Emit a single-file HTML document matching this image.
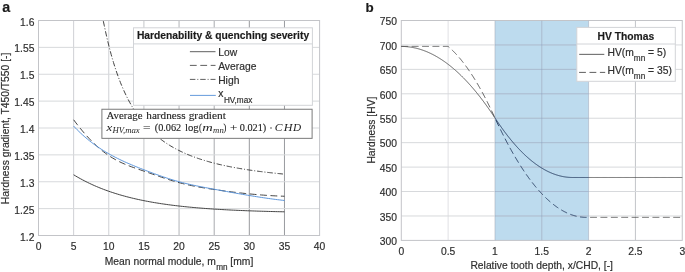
<!DOCTYPE html>
<html><head><meta charset="utf-8"><title>fig</title>
<style>
html,body{margin:0;padding:0;background:#fff;}
svg{display:block;will-change:transform;}
text{font-family:"Liberation Sans",sans-serif;font-size:10.3px;fill:#2e2e2e;stroke:#2e2e2e;stroke-width:0.18px;}
.b{font-weight:bold;fill:#1a1a1a;}
.s{font-family:"Liberation Serif",serif;fill:#222;stroke:#222;stroke-width:0.12px;}
.i{font-style:italic;stroke:none;}
</style></head><body>
<svg width="685" height="272" viewBox="0 0 685 272">
<rect width="685" height="272" fill="#fff"/>
<g fill="none" stroke-width="1">
<line x1="73.64" y1="20.5" x2="73.64" y2="235.5" stroke="#cfd1d5"/>
<line x1="108.78" y1="20.5" x2="108.78" y2="235.5" stroke="#cfd1d5"/>
<line x1="143.91" y1="20.5" x2="143.91" y2="235.5" stroke="#c4c6ca"/>
<line x1="179.05" y1="20.5" x2="179.05" y2="235.5" stroke="#b2b4b8"/>
<line x1="214.19" y1="20.5" x2="214.19" y2="235.5" stroke="#a8aaae"/>
<line x1="249.32" y1="20.5" x2="249.32" y2="235.5" stroke="#989a9e"/>
<line x1="284.46" y1="20.5" x2="284.46" y2="235.5" stroke="#989a9e"/>
<line x1="38.5" y1="208.62" x2="319.6" y2="208.62" stroke="#d7d9dc"/>
<line x1="38.5" y1="181.75" x2="319.6" y2="181.75" stroke="#d7d9dc"/>
<line x1="38.5" y1="154.87" x2="319.6" y2="154.87" stroke="#d7d9dc"/>
<line x1="38.5" y1="128.00" x2="319.6" y2="128.00" stroke="#d7d9dc"/>
<line x1="38.5" y1="101.12" x2="319.6" y2="101.12" stroke="#d7d9dc"/>
<line x1="38.5" y1="74.25" x2="319.6" y2="74.25" stroke="#d7d9dc"/>
<line x1="38.5" y1="47.37" x2="319.6" y2="47.37" stroke="#d7d9dc"/>
<rect x="38.5" y="20.5" width="281.10" height="215.00" stroke="#c3c4c8"/>
</g>
<g fill="none" stroke-width="0.95" stroke="#3a3a3a">
<path d="M73.64,174.76 L75.39,175.82 L77.15,176.86 L78.91,177.86 L80.67,178.84 L82.42,179.79 L84.18,180.71 L85.94,181.61 L87.69,182.48 L89.45,183.33 L91.21,184.16 L92.96,184.96 L94.72,185.74 L96.48,186.50 L98.23,187.24 L99.99,187.96 L101.75,188.65 L103.50,189.33 L105.26,189.99 L107.02,190.63 L108.78,191.26 L110.53,191.86 L112.29,192.45 L114.05,193.02 L115.80,193.58 L117.56,194.12 L119.32,194.65 L121.07,195.16 L122.83,195.66 L124.59,196.14 L126.34,196.62 L128.10,197.07 L129.86,197.52 L131.61,197.95 L133.37,198.37 L135.13,198.78 L136.89,199.18 L138.64,199.56 L140.40,199.94 L142.16,200.31 L143.91,200.66 L145.67,201.01 L147.43,201.34 L149.18,201.67 L150.94,201.99 L152.70,202.30 L154.45,202.60 L156.21,202.89 L157.97,203.17 L159.72,203.45 L161.48,203.72 L163.24,203.98 L165.00,204.23 L166.75,204.48 L168.51,204.72 L170.27,204.95 L172.02,205.18 L173.78,205.40 L175.54,205.61 L177.29,205.82 L179.05,206.02 L180.81,206.22 L182.56,206.41 L184.32,206.60 L186.08,206.78 L187.83,206.96 L189.59,207.13 L191.35,207.29 L193.11,207.46 L194.86,207.61 L196.62,207.77 L198.38,207.92 L200.13,208.06 L201.89,208.20 L203.65,208.34 L205.40,208.47 L207.16,208.60 L208.92,208.73 L210.67,208.85 L212.43,208.97 L214.19,209.08 L215.94,209.19 L217.70,209.30 L219.46,209.41 L221.22,209.51 L222.97,209.61 L224.73,209.71 L226.49,209.81 L228.24,209.90 L230.00,209.99 L231.76,210.08 L233.51,210.16 L235.27,210.24 L237.03,210.32 L238.78,210.40 L240.54,210.48 L242.30,210.55 L244.05,210.62 L245.81,210.69 L247.57,210.76 L249.32,210.83 L251.08,210.89 L252.84,210.95 L254.60,211.01 L256.35,211.07 L258.11,211.13 L259.87,211.18 L261.62,211.24 L263.38,211.29 L265.14,211.34 L266.89,211.39 L268.65,211.44 L270.41,211.49 L272.16,211.53 L273.92,211.58 L275.68,211.62 L277.44,211.66 L279.19,211.70 L280.95,211.74 L282.71,211.78 L284.46,211.82"/>
<path d="M73.64,119.77 L75.39,122.11 L77.15,124.40 L78.91,126.64 L80.67,128.81 L82.42,130.93 L84.18,132.99 L85.94,134.99 L87.69,136.94 L89.45,138.82 L91.21,140.65 L92.96,142.42 L94.72,144.12 L96.48,145.77 L98.23,147.35 L99.99,148.88 L101.75,150.34 L103.50,151.74 L105.26,153.08 L107.02,154.36 L108.78,155.57 L110.53,156.72 L112.29,157.81 L114.05,158.85 L115.80,159.83 L117.56,160.76 L119.32,161.65 L121.07,162.49 L122.83,163.29 L124.59,164.06 L126.34,164.80 L128.10,165.50 L129.86,166.18 L131.61,166.84 L133.37,167.48 L135.13,168.10 L136.89,168.72 L138.64,169.32 L140.40,169.92 L142.16,170.52 L143.91,171.12 L145.67,171.72 L147.43,172.33 L149.18,172.94 L150.94,173.55 L152.70,174.16 L154.45,174.77 L156.21,175.39 L157.97,175.99 L159.72,176.60 L161.48,177.20 L163.24,177.79 L165.00,178.37 L166.75,178.95 L168.51,179.51 L170.27,180.07 L172.02,180.61 L173.78,181.14 L175.54,181.66 L177.29,182.16 L179.05,182.64 L180.81,183.11 L182.56,183.55 L184.32,183.99 L186.08,184.40 L187.83,184.80 L189.59,185.19 L191.35,185.56 L193.11,185.92 L194.86,186.27 L196.62,186.61 L198.38,186.93 L200.13,187.25 L201.89,187.55 L203.65,187.85 L205.40,188.14 L207.16,188.43 L208.92,188.70 L210.67,188.97 L212.43,189.24 L214.19,189.50 L215.94,189.76 L217.70,190.01 L219.46,190.26 L221.22,190.51 L222.97,190.76 L224.73,191.00 L226.49,191.23 L228.24,191.46 L230.00,191.69 L231.76,191.91 L233.51,192.13 L235.27,192.35 L237.03,192.56 L238.78,192.76 L240.54,192.96 L242.30,193.16 L244.05,193.35 L245.81,193.54 L247.57,193.72 L249.32,193.90 L251.08,194.07 L252.84,194.23 L254.60,194.40 L256.35,194.55 L258.11,194.70 L259.87,194.85 L261.62,194.99 L263.38,195.12 L265.14,195.25 L266.89,195.37 L268.65,195.49 L270.41,195.60 L272.16,195.70 L273.92,195.80 L275.68,195.89 L277.44,195.98 L279.19,196.06 L280.95,196.13 L282.71,196.19 L284.46,196.25" stroke-dasharray="6.8 3.6"/>
<path d="M102.03,20.50 L103.18,20.50 L104.32,25.82 L105.47,31.25 L106.62,36.41 L107.77,41.31 L108.91,45.97 L110.06,50.41 L111.21,54.65 L112.36,58.68 L113.50,62.54 L114.65,66.22 L115.80,69.73 L116.94,73.10 L118.09,76.32 L119.24,79.40 L120.39,82.36 L121.53,85.19 L122.68,87.91 L123.83,90.52 L124.98,93.02 L126.12,95.43 L127.27,97.75 L128.42,99.97 L129.57,102.12 L130.71,104.18 L131.86,106.17 L133.01,108.09 L134.16,109.94 L135.30,111.72 L136.45,113.44 L137.60,115.10 L138.74,116.70 L139.89,118.25 L141.04,119.75 L142.19,121.20 L143.33,122.60 L144.48,123.96 L145.63,125.27 L146.78,126.54 L147.92,127.78 L149.07,128.97 L150.22,130.13 L151.37,131.25 L152.51,132.34 L153.66,133.39 L154.81,134.42 L155.96,135.41 L157.10,136.38 L158.25,137.32 L159.40,138.23 L160.55,139.12 L161.69,139.98 L162.84,140.81 L163.99,141.63 L165.13,142.42 L166.28,143.19 L167.43,143.95 L168.58,144.68 L169.72,145.39 L170.87,146.08 L172.02,146.76 L173.17,147.42 L174.31,148.06 L175.46,148.69 L176.61,149.30 L177.76,149.89 L178.90,150.47 L180.05,151.04 L181.20,151.59 L182.35,152.13 L183.49,152.66 L184.64,153.18 L185.79,153.68 L186.93,154.17 L188.08,154.65 L189.23,155.12 L190.38,155.58 L191.52,156.03 L192.67,156.47 L193.82,156.89 L194.97,157.31 L196.11,157.72 L197.26,158.12 L198.41,158.52 L199.56,158.90 L200.70,159.28 L201.85,159.65 L203.00,160.01 L204.15,160.36 L205.29,160.71 L206.44,161.05 L207.59,161.38 L208.74,161.70 L209.88,162.02 L211.03,162.33 L212.18,162.64 L213.32,162.94 L214.47,163.23 L215.62,163.52 L216.77,163.81 L217.91,164.08 L219.06,164.36 L220.21,164.62 L221.36,164.89 L222.50,165.14 L223.65,165.40 L224.80,165.64 L225.95,165.89 L227.09,166.13 L228.24,166.36 L229.39,166.59 L230.54,166.82 L231.68,167.04 L232.83,167.26 L233.98,167.47 L235.13,167.68 L236.27,167.89 L237.42,168.09 L238.57,168.29 L239.71,168.49 L240.86,168.68 L242.01,168.87 L243.16,169.06 L244.30,169.25 L245.45,169.43 L246.60,169.60 L247.75,169.78 L248.89,169.95 L250.04,170.12 L251.19,170.29 L252.34,170.45 L253.48,170.61 L254.63,170.77 L255.78,170.93 L256.93,171.08 L258.07,171.23 L259.22,171.38 L260.37,171.53 L261.51,171.67 L262.66,171.81 L263.81,171.95 L264.96,172.09 L266.10,172.23 L267.25,172.36 L268.40,172.49 L269.55,172.62 L270.69,172.75 L271.84,172.87 L272.99,173.00 L274.14,173.12 L275.28,173.24 L276.43,173.36 L277.58,173.48 L278.73,173.59 L279.87,173.71 L281.02,173.82 L282.17,173.93 L283.32,174.04 L284.46,174.15" stroke-dasharray="5.5 1.9 1 1.9" stroke-dashoffset="-1.8"/>
<path d="M73.64,126.09 L75.39,127.94 L77.15,129.73 L78.91,131.46 L80.67,133.14 L82.42,134.76 L84.18,136.33 L85.94,137.85 L87.69,139.32 L89.45,140.75 L91.21,142.12 L92.96,143.46 L94.72,144.75 L96.48,146.00 L98.23,147.21 L99.99,148.38 L101.75,149.52 L103.50,150.62 L105.26,151.70 L107.02,152.74 L108.78,153.75 L110.53,154.73 L112.29,155.69 L114.05,156.63 L115.80,157.54 L117.56,158.42 L119.32,159.29 L121.07,160.13 L122.83,160.96 L124.59,161.77 L126.34,162.56 L128.10,163.33 L129.86,164.09 L131.61,164.84 L133.37,165.57 L135.13,166.30 L136.89,167.01 L138.64,167.71 L140.40,168.41 L142.16,169.09 L143.91,169.78 L145.67,170.45 L147.43,171.13 L149.18,171.79 L150.94,172.45 L152.70,173.11 L154.45,173.75 L156.21,174.39 L157.97,175.02 L159.72,175.64 L161.48,176.26 L163.24,176.86 L165.00,177.45 L166.75,178.03 L168.51,178.60 L170.27,179.15 L172.02,179.70 L173.78,180.23 L175.54,180.74 L177.29,181.24 L179.05,181.73 L180.81,182.20 L182.56,182.66 L184.32,183.10 L186.08,183.53 L187.83,183.94 L189.59,184.35 L191.35,184.74 L193.11,185.13 L194.86,185.50 L196.62,185.87 L198.38,186.23 L200.13,186.58 L201.89,186.92 L203.65,187.26 L205.40,187.60 L207.16,187.93 L208.92,188.26 L210.67,188.58 L212.43,188.91 L214.19,189.23 L215.94,189.56 L217.70,189.88 L219.46,190.20 L221.22,190.53 L222.97,190.85 L224.73,191.17 L226.49,191.49 L228.24,191.81 L230.00,192.13 L231.76,192.45 L233.51,192.76 L235.27,193.08 L237.03,193.39 L238.78,193.70 L240.54,194.01 L242.30,194.31 L244.05,194.61 L245.81,194.91 L247.57,195.21 L249.32,195.50 L251.08,195.79 L252.84,196.08 L254.60,196.37 L256.35,196.65 L258.11,196.92 L259.87,197.19 L261.62,197.46 L263.38,197.73 L265.14,197.98 L266.89,198.24 L268.65,198.49 L270.41,198.73 L272.16,198.97 L273.92,199.21 L275.68,199.44 L277.44,199.66 L279.19,199.87 L280.95,200.09 L282.71,200.29 L284.46,200.49" stroke="#5590d8"/>
</g>
<text x="34.4" y="240.60" text-anchor="end">1.2</text>
<text x="34.4" y="213.72" text-anchor="end">1.25</text>
<text x="34.4" y="186.85" text-anchor="end">1.3</text>
<text x="34.4" y="159.97" text-anchor="end">1.35</text>
<text x="34.4" y="133.10" text-anchor="end">1.4</text>
<text x="34.4" y="106.22" text-anchor="end">1.45</text>
<text x="34.4" y="79.35" text-anchor="end">1.5</text>
<text x="34.4" y="52.47" text-anchor="end">1.55</text>
<text x="34.4" y="25.60" text-anchor="end">1.6</text>
<text x="38.50" y="250.3" text-anchor="middle">0</text>
<text x="73.64" y="250.3" text-anchor="middle">5</text>
<text x="108.78" y="250.3" text-anchor="middle">10</text>
<text x="143.91" y="250.3" text-anchor="middle">15</text>
<text x="179.05" y="250.3" text-anchor="middle">20</text>
<text x="214.19" y="250.3" text-anchor="middle">25</text>
<text x="249.32" y="250.3" text-anchor="middle">30</text>
<text x="284.46" y="250.3" text-anchor="middle">35</text>
<text x="319.60" y="250.3" text-anchor="middle">40</text>
<text x="104.8" y="264.6">Mean normal module, m<tspan font-size="8.2" dy="5.4" dx="0.3">mn</tspan><tspan dy="-5.4"> [mm]</tspan></text>
<text transform="translate(9.2,204.2) rotate(-90)">Hardness gradient, T450/T550 [-]</text>
<text class="b" x="2.3" y="11.5" style="font-size:14.3px">a</text>
<g stroke="#d2d4d8" stroke-width="1" fill="#fff"><rect x="133.5" y="27.8" width="178.9" height="77.5"/><line x1="133.5" y1="43.9" x2="312.4" y2="43.9"/></g>
<text class="b" x="223" y="39.2" text-anchor="middle">Hardenability &amp; quenching severity</text>
<g fill="none" stroke-width="0.9" stroke="#4d4d4d">
<line x1="189.9" y1="51.7" x2="215.5" y2="51.7"/>
<line x1="189.9" y1="65.4" x2="215.5" y2="65.4" stroke-dasharray="6.8 3.6"/>
<line x1="189.9" y1="79.4" x2="215.5" y2="79.4" stroke-dasharray="5.5 1.9 1 1.9"/>
<line x1="190" y1="95.4" x2="215.8" y2="95.4" stroke="#5590d8"/>
</g>
<text x="218.2" y="55.8">Low</text>
<text x="218.2" y="69.6">Average</text>
<text x="218.2" y="83.6">High</text>
<text x="218.2" y="96.8">x<tspan font-size="8.2" dy="5.7" dx="0.6">HV,max</tspan></text>
<rect x="101.9" y="109.25" width="210.2" height="29.1" fill="#fff" stroke="#7a7a7a" stroke-width="1"/>
<text class="s" x="106.6" y="118.8" textLength="35.90" lengthAdjust="spacingAndGlyphs" style="font-size:10.6px">Average</text>
<text class="s" x="146.3" y="118.8" textLength="39.20" lengthAdjust="spacingAndGlyphs" style="font-size:10.6px">hardness</text>
<text class="s" x="188.7" y="118.8" textLength="37.20" lengthAdjust="spacingAndGlyphs" style="font-size:10.6px">gradient</text>
<text class="s i" x="106.5" y="131.2" textLength="5.75" lengthAdjust="spacingAndGlyphs" style="font-size:10.8px">x</text>
<text class="s i" x="112.6" y="132.6" textLength="27.15" lengthAdjust="spacingAndGlyphs" style="font-size:7.2px">HV,max</text>
<text class="s" x="143.1" y="131.2" textLength="7.50" lengthAdjust="spacingAndGlyphs" style="font-size:10px">=</text>
<text class="s" x="154.75" y="131.2" textLength="26.50" lengthAdjust="spacingAndGlyphs" style="font-size:10.3px">(0.062</text>
<text class="s" x="185" y="131.2" textLength="13.75" lengthAdjust="spacingAndGlyphs" style="font-size:10.6px">log</text>
<text class="s" x="199.1" y="131.2" textLength="2.80" lengthAdjust="spacingAndGlyphs" style="font-size:10px">(</text>
<text class="s i" x="202.25" y="131.2" textLength="10.50" lengthAdjust="spacingAndGlyphs" style="font-size:10.8px">m</text>
<text class="s i" x="213.1" y="132.6" textLength="10.65" lengthAdjust="spacingAndGlyphs" style="font-size:7.2px">mn</text>
<text class="s" x="223.6" y="131.2" textLength="2.80" lengthAdjust="spacingAndGlyphs" style="font-size:10px">)</text>
<text class="s" x="230" y="131.2" textLength="7.25" lengthAdjust="spacingAndGlyphs" style="font-size:10px">+</text>
<text class="s" x="239.75" y="131.2" textLength="26.50" lengthAdjust="spacingAndGlyphs" style="font-size:10.3px">0.021)</text>
<circle cx="271" cy="128" r="0.7" fill="#222"/>
<text class="s i" x="274.75" y="131.2" textLength="7.75" lengthAdjust="spacingAndGlyphs" style="font-size:10.5px">C</text>
<text class="s i" x="283.75" y="131.2" textLength="8.75" lengthAdjust="spacingAndGlyphs" style="font-size:10.5px">H</text>
<text class="s i" x="293.1" y="131.2" textLength="8.15" lengthAdjust="spacingAndGlyphs" style="font-size:10.5px">D</text>
<rect x="494.95" y="20.5" width="93.65" height="219.90" fill="rgb(0,114,189)" fill-opacity="0.26"/>
<g fill="none" stroke-width="1">
<line x1="448.12" y1="20.5" x2="448.12" y2="240.4" stroke="#e0e1e4"/>
<line x1="494.95" y1="20.5" x2="494.95" y2="240.4" stroke="#d7d9dc"/>
<line x1="541.77" y1="20.5" x2="541.77" y2="240.4" stroke="#d7d9dc"/>
<line x1="588.60" y1="20.5" x2="588.60" y2="240.4" stroke="#d7d9dc"/>
<line x1="635.42" y1="20.5" x2="635.42" y2="240.4" stroke="#c2c4c8"/>
<line x1="401.3" y1="215.97" x2="682.25" y2="215.97" stroke="#d7d9dc"/>
<line x1="401.3" y1="191.53" x2="682.25" y2="191.53" stroke="#d7d9dc"/>
<line x1="401.3" y1="167.10" x2="682.25" y2="167.10" stroke="#d7d9dc"/>
<line x1="401.3" y1="142.67" x2="682.25" y2="142.67" stroke="#d7d9dc"/>
<line x1="401.3" y1="118.23" x2="682.25" y2="118.23" stroke="#d7d9dc"/>
<line x1="401.3" y1="93.80" x2="682.25" y2="93.80" stroke="#d7d9dc"/>
<line x1="401.3" y1="69.37" x2="682.25" y2="69.37" stroke="#d7d9dc"/>
<line x1="401.3" y1="44.93" x2="682.25" y2="44.93" stroke="#d7d9dc"/>
<rect x="401.3" y="20.5" width="280.95" height="219.90" stroke="#c3c4c8"/>
</g>
<clipPath id="cb"><rect x="494.95" y="20.5" width="93.65" height="219.90"/></clipPath>
<clipPath id="cw"><path d="M400.3,19.5 H494.95 V241.4 H400.3 Z M588.60,19.5 H683.25 V241.4 H588.60 Z"/></clipPath>
<g clip-path="url(#cb)" fill="none" stroke="#7fa3c8" stroke-width="1" stroke-opacity="0.55">
<line x1="494.95" y1="20.5" x2="494.95" y2="240.4"/>
<line x1="541.77" y1="20.5" x2="541.77" y2="240.4"/>
<line x1="588.60" y1="20.5" x2="588.60" y2="240.4"/>
<line x1="401.3" y1="215.97" x2="682.25" y2="215.97"/>
<line x1="401.3" y1="191.53" x2="682.25" y2="191.53"/>
<line x1="401.3" y1="167.10" x2="682.25" y2="167.10"/>
<line x1="401.3" y1="142.67" x2="682.25" y2="142.67"/>
<line x1="401.3" y1="118.23" x2="682.25" y2="118.23"/>
<line x1="401.3" y1="93.80" x2="682.25" y2="93.80"/>
<line x1="401.3" y1="69.37" x2="682.25" y2="69.37"/>
<line x1="401.3" y1="44.93" x2="682.25" y2="44.93"/>
</g>
<g fill="none" stroke-width="0.9" stroke="#4d4d4d" clip-path="url(#cw)">
<path d="M401.30,46.42 L401.77,46.43 L402.24,46.43 L402.70,46.44 L403.17,46.45 L403.64,46.47 L404.11,46.49 L404.58,46.51 L405.05,46.54 L405.51,46.57 L405.98,46.60 L406.45,46.64 L406.92,46.68 L407.39,46.73 L407.86,46.77 L408.32,46.83 L408.79,46.88 L409.26,46.94 L409.73,47.00 L410.20,47.07 L410.67,47.14 L411.13,47.21 L411.60,47.29 L412.07,47.37 L412.54,47.45 L413.01,47.54 L413.47,47.63 L413.94,47.73 L414.41,47.83 L414.88,47.93 L415.35,48.03 L415.82,48.14 L416.28,48.25 L416.75,48.37 L417.22,48.49 L417.69,48.61 L418.16,48.74 L418.63,48.87 L419.09,49.01 L419.56,49.14 L420.03,49.28 L420.50,49.43 L420.97,49.58 L421.43,49.73 L421.90,49.88 L422.37,50.04 L422.84,50.21 L423.31,50.37 L423.78,50.54 L424.24,50.72 L424.71,50.89 L425.18,51.07 L425.65,51.26 L426.12,51.45 L426.59,51.64 L427.05,51.83 L427.52,52.03 L427.99,52.23 L428.46,52.44 L428.93,52.65 L429.39,52.86 L429.86,53.08 L430.33,53.30 L430.80,53.52 L431.27,53.75 L431.74,53.98 L432.20,54.21 L432.67,54.45 L433.14,54.69 L433.61,54.93 L434.08,55.18 L434.55,55.43 L435.01,55.69 L435.48,55.95 L435.95,56.21 L436.42,56.48 L436.89,56.75 L437.36,57.02 L437.82,57.30 L438.29,57.58 L438.76,57.86 L439.23,58.15 L439.70,58.44 L440.16,58.74 L440.63,59.04 L441.10,59.34 L441.57,59.64 L442.04,59.95 L442.51,60.27 L442.97,60.58 L443.44,60.90 L443.91,61.23 L444.38,61.55 L444.85,61.88 L445.32,62.22 L445.78,62.56 L446.25,62.90 L446.72,63.24 L447.19,63.59 L447.66,63.94 L448.12,64.30 L448.59,64.66 L449.06,65.02 L449.53,65.39 L450.00,65.76 L450.47,66.13 L450.93,66.51 L451.40,66.89 L451.87,67.27 L452.34,67.66 L452.81,68.05 L453.28,68.45 L453.74,68.84 L454.21,69.25 L454.68,69.65 L455.15,70.06 L455.62,70.47 L456.09,70.89 L456.55,71.31 L457.02,71.73 L457.49,72.16 L457.96,72.59 L458.43,73.03 L458.89,73.46 L459.36,73.91 L459.83,74.35 L460.30,74.80 L460.77,75.25 L461.24,75.71 L461.70,76.17 L462.17,76.63 L462.64,77.10 L463.11,77.57 L463.58,78.04 L464.05,78.52 L464.51,79.00 L464.98,79.48 L465.45,79.97 L465.92,80.46 L466.39,80.96 L466.86,81.46 L467.32,81.96 L467.79,82.46 L468.26,82.97 L468.73,83.49 L469.20,84.00 L469.66,84.52 L470.13,85.05 L470.60,85.57 L471.07,86.10 L471.54,86.64 L472.01,87.18 L472.47,87.72 L472.94,88.26 L473.41,88.81 L473.88,89.36 L474.35,89.92 L474.82,90.48 L475.28,91.04 L475.75,91.61 L476.22,92.18 L476.69,92.75 L477.16,93.33 L477.62,93.91 L478.09,94.50 L478.56,95.08 L479.03,95.68 L479.50,96.27 L479.97,96.87 L480.43,97.47 L480.90,98.08 L481.37,98.69 L481.84,99.30 L482.31,99.92 L482.78,100.54 L483.24,101.16 L483.71,101.79 L484.18,102.42 L484.65,103.05 L485.12,103.69 L485.59,104.33 L486.05,104.98 L486.52,105.63 L486.99,106.28 L487.46,106.94 L487.93,107.60 L488.39,108.26 L488.86,108.92 L489.33,109.59 L489.80,110.27 L490.27,110.95 L490.74,111.63 L491.20,112.31 L491.67,113.00 L492.14,113.69 L492.61,114.39 L493.08,115.09 L493.55,115.79 L494.01,116.49 L494.48,117.20 L494.95,117.92 L495.42,118.63 L495.89,119.34 L496.35,120.05 L496.82,120.75 L497.29,121.45 L497.76,122.14 L498.23,122.83 L498.70,123.52 L499.16,124.20 L499.63,124.88 L500.10,125.55 L500.57,126.22 L501.04,126.88 L501.51,127.54 L501.97,128.20 L502.44,128.85 L502.91,129.49 L503.38,130.13 L503.85,130.77 L504.31,131.41 L504.78,132.04 L505.25,132.66 L505.72,133.28 L506.19,133.90 L506.66,134.51 L507.12,135.12 L507.59,135.72 L508.06,136.32 L508.53,136.91 L509.00,137.50 L509.47,138.09 L509.93,138.67 L510.40,139.25 L510.87,139.82 L511.34,140.39 L511.81,140.95 L512.28,141.51 L512.74,142.07 L513.21,142.62 L513.68,143.17 L514.15,143.71 L514.62,144.25 L515.08,144.78 L515.55,145.31 L516.02,145.84 L516.49,146.36 L516.96,146.88 L517.43,147.39 L517.89,147.90 L518.36,148.40 L518.83,148.90 L519.30,149.39 L519.77,149.89 L520.24,150.37 L520.70,150.85 L521.17,151.33 L521.64,151.81 L522.11,152.27 L522.58,152.74 L523.05,153.20 L523.51,153.66 L523.98,154.11 L524.45,154.56 L524.92,155.00 L525.39,155.44 L525.85,155.87 L526.32,156.30 L526.79,156.73 L527.26,157.15 L527.73,157.57 L528.20,157.98 L528.66,158.39 L529.13,158.79 L529.60,159.19 L530.07,159.59 L530.54,159.98 L531.01,160.37 L531.47,160.75 L531.94,161.13 L532.41,161.50 L532.88,161.87 L533.35,162.24 L533.81,162.60 L534.28,162.96 L534.75,163.31 L535.22,163.66 L535.69,164.00 L536.16,164.34 L536.62,164.67 L537.09,165.01 L537.56,165.33 L538.03,165.65 L538.50,165.97 L538.97,166.29 L539.43,166.59 L539.90,166.90 L540.37,167.20 L540.84,167.50 L541.31,167.79 L541.77,168.08 L542.24,168.36 L542.71,168.64 L543.18,168.91 L543.65,169.18 L544.12,169.45 L544.58,169.71 L545.05,169.97 L545.52,170.22 L545.99,170.47 L546.46,170.71 L546.93,170.95 L547.39,171.19 L547.86,171.42 L548.33,171.65 L548.80,171.87 L549.27,172.09 L549.74,172.30 L550.20,172.51 L550.67,172.72 L551.14,172.92 L551.61,173.12 L552.08,173.31 L552.54,173.50 L553.01,173.68 L553.48,173.86 L553.95,174.03 L554.42,174.20 L554.89,174.37 L555.35,174.53 L555.82,174.69 L556.29,174.84 L556.76,174.99 L557.23,175.14 L557.70,175.28 L558.16,175.42 L558.63,175.55 L559.10,175.68 L559.57,175.80 L560.04,175.92 L560.50,176.03 L560.97,176.14 L561.44,176.25 L561.91,176.35 L562.38,176.45 L562.85,176.54 L563.31,176.63 L563.78,176.71 L564.25,176.79 L564.72,176.87 L565.19,176.94 L565.66,177.01 L566.12,177.07 L566.59,177.13 L567.06,177.18 L567.53,177.23 L568.00,177.28 L568.47,177.32 L568.93,177.35 L569.40,177.39 L569.87,177.42 L570.34,177.44 L570.81,177.46 L571.27,177.47 L571.74,177.48 L572.21,177.49 L572.68,177.49 L573.15,177.49 L573.62,177.49 L574.08,177.49 L574.55,177.49 L575.02,177.49 L575.49,177.49 L575.96,177.49 L576.43,177.49 L576.89,177.49 L577.36,177.49 L577.83,177.49 L578.30,177.49 L578.77,177.49 L579.24,177.49 L579.70,177.49 L580.17,177.49 L580.64,177.49 L581.11,177.49 L581.58,177.49 L582.04,177.49 L582.51,177.49 L582.98,177.49 L583.45,177.49 L583.92,177.49 L584.39,177.49 L584.85,177.49 L585.32,177.49 L585.79,177.49 L586.26,177.49 L586.73,177.49 L587.20,177.49 L587.66,177.49 L588.13,177.49 L588.60,177.49 L589.07,177.49 L589.54,177.49 L590.00,177.49 L590.47,177.49 L590.94,177.49 L591.41,177.49 L591.88,177.49 L592.35,177.49 L592.81,177.49 L593.28,177.49 L593.75,177.49 L594.22,177.49 L594.69,177.49 L595.16,177.49 L595.62,177.49 L596.09,177.49 L596.56,177.49 L597.03,177.49 L597.50,177.49 L597.97,177.49 L598.43,177.49 L598.90,177.49 L599.37,177.49 L599.84,177.49 L600.31,177.49 L600.77,177.49 L601.24,177.49 L601.71,177.49 L602.18,177.49 L602.65,177.49 L603.12,177.49 L603.58,177.49 L604.05,177.49 L604.52,177.49 L604.99,177.49 L605.46,177.49 L605.93,177.49 L606.39,177.49 L606.86,177.49 L607.33,177.49 L607.80,177.49 L608.27,177.49 L608.73,177.49 L609.20,177.49 L609.67,177.49 L610.14,177.49 L610.61,177.49 L611.08,177.49 L611.54,177.49 L612.01,177.49 L612.48,177.49 L612.95,177.49 L613.42,177.49 L613.89,177.49 L614.35,177.49 L614.82,177.49 L615.29,177.49 L615.76,177.49 L616.23,177.49 L616.70,177.49 L617.16,177.49 L617.63,177.49 L618.10,177.49 L618.57,177.49 L619.04,177.49 L619.50,177.49 L619.97,177.49 L620.44,177.49 L620.91,177.49 L621.38,177.49 L621.85,177.49 L622.31,177.49 L622.78,177.49 L623.25,177.49 L623.72,177.49 L624.19,177.49 L624.66,177.49 L625.12,177.49 L625.59,177.49 L626.06,177.49 L626.53,177.49 L627.00,177.49 L627.46,177.49 L627.93,177.49 L628.40,177.49 L628.87,177.49 L629.34,177.49 L629.81,177.49 L630.27,177.49 L630.74,177.49 L631.21,177.49 L631.68,177.49 L632.15,177.49 L632.62,177.49 L633.08,177.49 L633.55,177.49 L634.02,177.49 L634.49,177.49 L634.96,177.49 L635.42,177.49 L635.89,177.49 L636.36,177.49 L636.83,177.49 L637.30,177.49 L637.77,177.49 L638.23,177.49 L638.70,177.49 L639.17,177.49 L639.64,177.49 L640.11,177.49 L640.58,177.49 L641.04,177.49 L641.51,177.49 L641.98,177.49 L642.45,177.49 L642.92,177.49 L643.39,177.49 L643.85,177.49 L644.32,177.49 L644.79,177.49 L645.26,177.49 L645.73,177.49 L646.19,177.49 L646.66,177.49 L647.13,177.49 L647.60,177.49 L648.07,177.49 L648.54,177.49 L649.00,177.49 L649.47,177.49 L649.94,177.49 L650.41,177.49 L650.88,177.49 L651.35,177.49 L651.81,177.49 L652.28,177.49 L652.75,177.49 L653.22,177.49 L653.69,177.49 L654.15,177.49 L654.62,177.49 L655.09,177.49 L655.56,177.49 L656.03,177.49 L656.50,177.49 L656.96,177.49 L657.43,177.49 L657.90,177.49 L658.37,177.49 L658.84,177.49 L659.31,177.49 L659.77,177.49 L660.24,177.49 L660.71,177.49 L661.18,177.49 L661.65,177.49 L662.12,177.49 L662.58,177.49 L663.05,177.49 L663.52,177.49 L663.99,177.49 L664.46,177.49 L664.92,177.49 L665.39,177.49 L665.86,177.49 L666.33,177.49 L666.80,177.49 L667.27,177.49 L667.73,177.49 L668.20,177.49 L668.67,177.49 L669.14,177.49 L669.61,177.49 L670.08,177.49 L670.54,177.49 L671.01,177.49 L671.48,177.49 L671.95,177.49 L672.42,177.49 L672.88,177.49 L673.35,177.49 L673.82,177.49 L674.29,177.49 L674.76,177.49 L675.23,177.49 L675.69,177.49 L676.16,177.49 L676.63,177.49 L677.10,177.49 L677.57,177.49 L678.04,177.49 L678.50,177.49 L678.97,177.49 L679.44,177.49 L679.91,177.49 L680.38,177.49 L680.85,177.49 L681.31,177.49 L681.78,177.49 L682.25,177.49"/>
<path d="M401.30,46.42 L401.77,46.42 L402.24,46.42 L402.70,46.42 L403.17,46.42 L403.64,46.42 L404.11,46.42 L404.58,46.42 L405.05,46.42 L405.51,46.42 L405.98,46.42 L406.45,46.42 L406.92,46.42 L407.39,46.42 L407.86,46.42 L408.32,46.42 L408.79,46.42 L409.26,46.42 L409.73,46.42 L410.20,46.42 L410.67,46.42 L411.13,46.42 L411.60,46.42 L412.07,46.42 L412.54,46.42 L413.01,46.42 L413.47,46.42 L413.94,46.42 L414.41,46.42 L414.88,46.42 L415.35,46.42 L415.82,46.42 L416.28,46.42 L416.75,46.42 L417.22,46.42 L417.69,46.42 L418.16,46.42 L418.63,46.42 L419.09,46.42 L419.56,46.42 L420.03,46.42 L420.50,46.42 L420.97,46.42 L421.43,46.42 L421.90,46.42 L422.37,46.42 L422.84,46.42 L423.31,46.42 L423.78,46.42 L424.24,46.42 L424.71,46.42 L425.18,46.42 L425.65,46.42 L426.12,46.42 L426.59,46.42 L427.05,46.42 L427.52,46.42 L427.99,46.42 L428.46,46.42 L428.93,46.42 L429.39,46.42 L429.86,46.42 L430.33,46.42 L430.80,46.42 L431.27,46.42 L431.74,46.42 L432.20,46.42 L432.67,46.42 L433.14,46.42 L433.61,46.42 L434.08,46.42 L434.55,46.42 L435.01,46.42 L435.48,46.42 L435.95,46.42 L436.42,46.42 L436.89,46.42 L437.36,46.42 L437.82,46.42 L438.29,46.42 L438.76,46.42 L439.23,46.42 L439.70,46.42 L440.16,46.42 L440.63,46.42 L441.10,46.42 L441.57,46.42 L442.04,46.42 L442.51,46.42 L442.97,46.42 L443.44,46.42 L443.91,46.42 L444.38,46.42 L444.85,46.42 L445.32,46.42 L445.78,46.42 L446.25,46.42 L446.72,46.42 L447.19,46.42 L447.66,46.42 L448.12,46.42 L448.59,46.82 L449.06,47.23 L449.53,47.64 L450.00,48.06 L450.47,48.49 L450.93,48.92 L451.40,49.36 L451.87,49.80 L452.34,50.25 L452.81,50.71 L453.28,51.17 L453.74,51.64 L454.21,52.12 L454.68,52.60 L455.15,53.09 L455.62,53.59 L456.09,54.09 L456.55,54.60 L457.02,55.11 L457.49,55.63 L457.96,56.16 L458.43,56.70 L458.89,57.24 L459.36,57.78 L459.83,58.34 L460.30,58.90 L460.77,59.46 L461.24,60.04 L461.70,60.61 L462.17,61.20 L462.64,61.79 L463.11,62.39 L463.58,62.99 L464.05,63.60 L464.51,64.22 L464.98,64.84 L465.45,65.48 L465.92,66.11 L466.39,66.75 L466.86,67.40 L467.32,68.06 L467.79,68.72 L468.26,69.39 L468.73,70.06 L469.20,70.75 L469.66,71.43 L470.13,72.13 L470.60,72.83 L471.07,73.53 L471.54,74.25 L472.01,74.97 L472.47,75.69 L472.94,76.43 L473.41,77.16 L473.88,77.91 L474.35,78.66 L474.82,79.42 L475.28,80.18 L475.75,80.95 L476.22,81.73 L476.69,82.51 L477.16,83.30 L477.62,84.10 L478.09,84.90 L478.56,85.71 L479.03,86.53 L479.50,87.35 L479.97,88.18 L480.43,89.01 L480.90,89.85 L481.37,90.70 L481.84,91.56 L482.31,92.42 L482.78,93.28 L483.24,94.16 L483.71,95.04 L484.18,95.92 L484.65,96.81 L485.12,97.71 L485.59,98.62 L486.05,99.53 L486.52,100.45 L486.99,101.37 L487.46,102.30 L487.93,103.24 L488.39,104.18 L488.86,105.13 L489.33,106.09 L489.80,107.05 L490.27,108.02 L490.74,109.00 L491.20,109.98 L491.67,110.97 L492.14,111.96 L492.61,112.96 L493.08,113.97 L493.55,114.98 L494.01,116.00 L494.48,117.03 L494.95,118.06 L495.42,118.95 L495.89,119.96 L496.35,120.97 L496.82,121.97 L497.29,122.97 L497.76,123.96 L498.23,124.94 L498.70,125.92 L499.16,126.90 L499.63,127.86 L500.10,128.83 L500.57,129.79 L501.04,130.74 L501.51,131.69 L501.97,132.63 L502.44,133.57 L502.91,134.50 L503.38,135.43 L503.85,136.35 L504.31,137.27 L504.78,138.18 L505.25,139.09 L505.72,139.99 L506.19,140.89 L506.66,141.78 L507.12,142.67 L507.59,143.55 L508.06,144.42 L508.53,145.29 L509.00,146.16 L509.47,147.02 L509.93,147.87 L510.40,148.72 L510.87,149.56 L511.34,150.40 L511.81,151.24 L512.28,152.07 L512.74,152.89 L513.21,153.71 L513.68,154.52 L514.15,155.33 L514.62,156.13 L515.08,156.93 L515.55,157.72 L516.02,158.51 L516.49,159.29 L516.96,160.06 L517.43,160.83 L517.89,161.60 L518.36,162.36 L518.83,163.12 L519.30,163.87 L519.77,164.61 L520.24,165.35 L520.70,166.09 L521.17,166.81 L521.64,167.54 L522.11,168.26 L522.58,168.97 L523.05,169.68" stroke-dasharray="6.8 3.6"/><path d="M523.05,169.68 L523.51,170.38 L523.98,171.08 L524.45,171.77 L524.92,172.46 L525.39,173.14 L525.85,173.82 L526.32,174.49 L526.79,175.16 L527.26,175.82 L527.73,176.48 L528.20,177.13 L528.66,177.77 L529.13,178.41 L529.60,179.05 L530.07,179.68 L530.54,180.30 L531.01,180.92 L531.47,181.54 L531.94,182.15 L532.41,182.75 L532.88,183.35 L533.35,183.94 L533.81,184.53 L534.28,185.11 L534.75,185.69 L535.22,186.27 L535.69,186.83 L536.16,187.39 L536.62,187.95 L537.09,188.50 L537.56,189.05 L538.03,189.59 L538.50,190.13 L538.97,190.66 L539.43,191.18 L539.90,191.70 L540.37,192.22 L540.84,192.73 L541.31,193.23 L541.77,193.73 L542.24,194.23 L542.71,194.72 L543.18,195.20 L543.65,195.68 L544.12,196.15 L544.58,196.62 L545.05,197.09 L545.52,197.54 L545.99,198.00 L546.46,198.44 L546.93,198.89 L547.39,199.32 L547.86,199.75 L548.33,200.18 L548.80,200.60 L549.27,201.02 L549.74,201.43 L550.20,201.83 L550.67,202.23 L551.14,202.63 L551.61,203.02 L552.08,203.40 L552.54,203.78 L553.01,204.16 L553.48,204.53 L553.95,204.89 L554.42,205.25 L554.89,205.60 L555.35,205.95 L555.82,206.29 L556.29,206.63 L556.76,206.96 L557.23,207.29 L557.70,207.61 L558.16,207.93 L558.63,208.24 L559.10,208.55 L559.57,208.85 L560.04,209.15 L560.50,209.44 L560.97,209.72 L561.44,210.00 L561.91,210.28 L562.38,210.55 L562.85,210.81 L563.31,211.07 L563.78,211.33 L564.25,211.58 L564.72,211.82 L565.19,212.06 L565.66,212.29 L566.12,212.52 L566.59,212.74 L567.06,212.96 L567.53,213.17 L568.00,213.38 L568.47,213.58 L568.93,213.78 L569.40,213.97 L569.87,214.16 L570.34,214.34 L570.81,214.51 L571.27,214.68 L571.74,214.85 L572.21,215.01 L572.68,215.16 L573.15,215.31 L573.62,215.46 L574.08,215.60 L574.55,215.73 L575.02,215.86 L575.49,215.99 L575.96,216.10 L576.43,216.22 L576.89,216.33 L577.36,216.43 L577.83,216.53 L578.30,216.62 L578.77,216.71 L579.24,216.79 L579.70,216.86 L580.17,216.94 L580.64,217.00 L581.11,217.06 L581.58,217.12 L582.04,217.17 L582.51,217.21 L582.98,217.25 L583.45,217.29 L583.92,217.32 L584.39,217.34 L584.85,217.36 L585.32,217.38 L585.79,217.39 L586.26,217.39 L586.73,217.39 L587.20,217.39 L587.66,217.39 L588.13,217.39 L588.60,217.39" stroke-dasharray="6.585 3.486" stroke-dashoffset="4.513"/><path d="M588.60,217.39 L589.07,217.39 L589.54,217.39 L590.00,217.39 L590.47,217.39 L590.94,217.39 L591.41,217.39 L591.88,217.39 L592.35,217.39 L592.81,217.39 L593.28,217.39 L593.75,217.39 L594.22,217.39 L594.69,217.39 L595.16,217.39 L595.62,217.39 L596.09,217.39 L596.56,217.39 L597.03,217.39 L597.50,217.39 L597.97,217.39 L598.43,217.39 L598.90,217.39 L599.37,217.39 L599.84,217.39 L600.31,217.39 L600.77,217.39 L601.24,217.39 L601.71,217.39 L602.18,217.39 L602.65,217.39 L603.12,217.39 L603.58,217.39 L604.05,217.39 L604.52,217.39 L604.99,217.39 L605.46,217.39 L605.93,217.39 L606.39,217.39 L606.86,217.39 L607.33,217.39 L607.80,217.39 L608.27,217.39 L608.73,217.39 L609.20,217.39 L609.67,217.39 L610.14,217.39 L610.61,217.39 L611.08,217.39 L611.54,217.39 L612.01,217.39 L612.48,217.39 L612.95,217.39 L613.42,217.39 L613.89,217.39 L614.35,217.39 L614.82,217.39 L615.29,217.39 L615.76,217.39 L616.23,217.39 L616.70,217.39 L617.16,217.39 L617.63,217.39 L618.10,217.39 L618.57,217.39 L619.04,217.39 L619.50,217.39 L619.97,217.39 L620.44,217.39 L620.91,217.39 L621.38,217.39 L621.85,217.39 L622.31,217.39 L622.78,217.39 L623.25,217.39 L623.72,217.39 L624.19,217.39 L624.66,217.39 L625.12,217.39 L625.59,217.39 L626.06,217.39 L626.53,217.39 L627.00,217.39 L627.46,217.39 L627.93,217.39 L628.40,217.39 L628.87,217.39 L629.34,217.39 L629.81,217.39 L630.27,217.39 L630.74,217.39 L631.21,217.39 L631.68,217.39 L632.15,217.39 L632.62,217.39 L633.08,217.39 L633.55,217.39 L634.02,217.39 L634.49,217.39 L634.96,217.39 L635.42,217.39 L635.89,217.39 L636.36,217.39 L636.83,217.39 L637.30,217.39 L637.77,217.39 L638.23,217.39 L638.70,217.39 L639.17,217.39 L639.64,217.39 L640.11,217.39 L640.58,217.39 L641.04,217.39 L641.51,217.39 L641.98,217.39 L642.45,217.39 L642.92,217.39 L643.39,217.39 L643.85,217.39 L644.32,217.39 L644.79,217.39 L645.26,217.39 L645.73,217.39 L646.19,217.39 L646.66,217.39 L647.13,217.39 L647.60,217.39 L648.07,217.39 L648.54,217.39 L649.00,217.39 L649.47,217.39 L649.94,217.39 L650.41,217.39 L650.88,217.39 L651.35,217.39 L651.81,217.39 L652.28,217.39 L652.75,217.39 L653.22,217.39 L653.69,217.39 L654.15,217.39 L654.62,217.39 L655.09,217.39 L655.56,217.39 L656.03,217.39 L656.50,217.39 L656.96,217.39 L657.43,217.39 L657.90,217.39 L658.37,217.39 L658.84,217.39 L659.31,217.39 L659.77,217.39 L660.24,217.39 L660.71,217.39 L661.18,217.39 L661.65,217.39 L662.12,217.39 L662.58,217.39 L663.05,217.39 L663.52,217.39 L663.99,217.39 L664.46,217.39 L664.92,217.39 L665.39,217.39 L665.86,217.39 L666.33,217.39 L666.80,217.39 L667.27,217.39 L667.73,217.39 L668.20,217.39 L668.67,217.39 L669.14,217.39 L669.61,217.39 L670.08,217.39 L670.54,217.39 L671.01,217.39 L671.48,217.39 L671.95,217.39 L672.42,217.39 L672.88,217.39 L673.35,217.39 L673.82,217.39 L674.29,217.39 L674.76,217.39 L675.23,217.39 L675.69,217.39 L676.16,217.39 L676.63,217.39 L677.10,217.39 L677.57,217.39 L678.04,217.39 L678.50,217.39 L678.97,217.39 L679.44,217.39 L679.91,217.39 L680.38,217.39 L680.85,217.39 L681.31,217.39 L681.78,217.39 L682.25,217.39" stroke-dasharray="6.8 3.6" stroke-dashoffset="8.900"/>
</g>
<g fill="none" stroke-width="1" stroke="#2f4568" clip-path="url(#cb)">
<path d="M401.30,46.42 L401.77,46.43 L402.24,46.43 L402.70,46.44 L403.17,46.45 L403.64,46.47 L404.11,46.49 L404.58,46.51 L405.05,46.54 L405.51,46.57 L405.98,46.60 L406.45,46.64 L406.92,46.68 L407.39,46.73 L407.86,46.77 L408.32,46.83 L408.79,46.88 L409.26,46.94 L409.73,47.00 L410.20,47.07 L410.67,47.14 L411.13,47.21 L411.60,47.29 L412.07,47.37 L412.54,47.45 L413.01,47.54 L413.47,47.63 L413.94,47.73 L414.41,47.83 L414.88,47.93 L415.35,48.03 L415.82,48.14 L416.28,48.25 L416.75,48.37 L417.22,48.49 L417.69,48.61 L418.16,48.74 L418.63,48.87 L419.09,49.01 L419.56,49.14 L420.03,49.28 L420.50,49.43 L420.97,49.58 L421.43,49.73 L421.90,49.88 L422.37,50.04 L422.84,50.21 L423.31,50.37 L423.78,50.54 L424.24,50.72 L424.71,50.89 L425.18,51.07 L425.65,51.26 L426.12,51.45 L426.59,51.64 L427.05,51.83 L427.52,52.03 L427.99,52.23 L428.46,52.44 L428.93,52.65 L429.39,52.86 L429.86,53.08 L430.33,53.30 L430.80,53.52 L431.27,53.75 L431.74,53.98 L432.20,54.21 L432.67,54.45 L433.14,54.69 L433.61,54.93 L434.08,55.18 L434.55,55.43 L435.01,55.69 L435.48,55.95 L435.95,56.21 L436.42,56.48 L436.89,56.75 L437.36,57.02 L437.82,57.30 L438.29,57.58 L438.76,57.86 L439.23,58.15 L439.70,58.44 L440.16,58.74 L440.63,59.04 L441.10,59.34 L441.57,59.64 L442.04,59.95 L442.51,60.27 L442.97,60.58 L443.44,60.90 L443.91,61.23 L444.38,61.55 L444.85,61.88 L445.32,62.22 L445.78,62.56 L446.25,62.90 L446.72,63.24 L447.19,63.59 L447.66,63.94 L448.12,64.30 L448.59,64.66 L449.06,65.02 L449.53,65.39 L450.00,65.76 L450.47,66.13 L450.93,66.51 L451.40,66.89 L451.87,67.27 L452.34,67.66 L452.81,68.05 L453.28,68.45 L453.74,68.84 L454.21,69.25 L454.68,69.65 L455.15,70.06 L455.62,70.47 L456.09,70.89 L456.55,71.31 L457.02,71.73 L457.49,72.16 L457.96,72.59 L458.43,73.03 L458.89,73.46 L459.36,73.91 L459.83,74.35 L460.30,74.80 L460.77,75.25 L461.24,75.71 L461.70,76.17 L462.17,76.63 L462.64,77.10 L463.11,77.57 L463.58,78.04 L464.05,78.52 L464.51,79.00 L464.98,79.48 L465.45,79.97 L465.92,80.46 L466.39,80.96 L466.86,81.46 L467.32,81.96 L467.79,82.46 L468.26,82.97 L468.73,83.49 L469.20,84.00 L469.66,84.52 L470.13,85.05 L470.60,85.57 L471.07,86.10 L471.54,86.64 L472.01,87.18 L472.47,87.72 L472.94,88.26 L473.41,88.81 L473.88,89.36 L474.35,89.92 L474.82,90.48 L475.28,91.04 L475.75,91.61 L476.22,92.18 L476.69,92.75 L477.16,93.33 L477.62,93.91 L478.09,94.50 L478.56,95.08 L479.03,95.68 L479.50,96.27 L479.97,96.87 L480.43,97.47 L480.90,98.08 L481.37,98.69 L481.84,99.30 L482.31,99.92 L482.78,100.54 L483.24,101.16 L483.71,101.79 L484.18,102.42 L484.65,103.05 L485.12,103.69 L485.59,104.33 L486.05,104.98 L486.52,105.63 L486.99,106.28 L487.46,106.94 L487.93,107.60 L488.39,108.26 L488.86,108.92 L489.33,109.59 L489.80,110.27 L490.27,110.95 L490.74,111.63 L491.20,112.31 L491.67,113.00 L492.14,113.69 L492.61,114.39 L493.08,115.09 L493.55,115.79 L494.01,116.49 L494.48,117.20 L494.95,117.92 L495.42,118.63 L495.89,119.34 L496.35,120.05 L496.82,120.75 L497.29,121.45 L497.76,122.14 L498.23,122.83 L498.70,123.52 L499.16,124.20 L499.63,124.88 L500.10,125.55 L500.57,126.22 L501.04,126.88 L501.51,127.54 L501.97,128.20 L502.44,128.85 L502.91,129.49 L503.38,130.13 L503.85,130.77 L504.31,131.41 L504.78,132.04 L505.25,132.66 L505.72,133.28 L506.19,133.90 L506.66,134.51 L507.12,135.12 L507.59,135.72 L508.06,136.32 L508.53,136.91 L509.00,137.50 L509.47,138.09 L509.93,138.67 L510.40,139.25 L510.87,139.82 L511.34,140.39 L511.81,140.95 L512.28,141.51 L512.74,142.07 L513.21,142.62 L513.68,143.17 L514.15,143.71 L514.62,144.25 L515.08,144.78 L515.55,145.31 L516.02,145.84 L516.49,146.36 L516.96,146.88 L517.43,147.39 L517.89,147.90 L518.36,148.40 L518.83,148.90 L519.30,149.39 L519.77,149.89 L520.24,150.37 L520.70,150.85 L521.17,151.33 L521.64,151.81 L522.11,152.27 L522.58,152.74 L523.05,153.20 L523.51,153.66 L523.98,154.11 L524.45,154.56 L524.92,155.00 L525.39,155.44 L525.85,155.87 L526.32,156.30 L526.79,156.73 L527.26,157.15 L527.73,157.57 L528.20,157.98 L528.66,158.39 L529.13,158.79 L529.60,159.19 L530.07,159.59 L530.54,159.98 L531.01,160.37 L531.47,160.75 L531.94,161.13 L532.41,161.50 L532.88,161.87 L533.35,162.24 L533.81,162.60 L534.28,162.96 L534.75,163.31 L535.22,163.66 L535.69,164.00 L536.16,164.34 L536.62,164.67 L537.09,165.01 L537.56,165.33 L538.03,165.65 L538.50,165.97 L538.97,166.29 L539.43,166.59 L539.90,166.90 L540.37,167.20 L540.84,167.50 L541.31,167.79 L541.77,168.08 L542.24,168.36 L542.71,168.64 L543.18,168.91 L543.65,169.18 L544.12,169.45 L544.58,169.71 L545.05,169.97 L545.52,170.22 L545.99,170.47 L546.46,170.71 L546.93,170.95 L547.39,171.19 L547.86,171.42 L548.33,171.65 L548.80,171.87 L549.27,172.09 L549.74,172.30 L550.20,172.51 L550.67,172.72 L551.14,172.92 L551.61,173.12 L552.08,173.31 L552.54,173.50 L553.01,173.68 L553.48,173.86 L553.95,174.03 L554.42,174.20 L554.89,174.37 L555.35,174.53 L555.82,174.69 L556.29,174.84 L556.76,174.99 L557.23,175.14 L557.70,175.28 L558.16,175.42 L558.63,175.55 L559.10,175.68 L559.57,175.80 L560.04,175.92 L560.50,176.03 L560.97,176.14 L561.44,176.25 L561.91,176.35 L562.38,176.45 L562.85,176.54 L563.31,176.63 L563.78,176.71 L564.25,176.79 L564.72,176.87 L565.19,176.94 L565.66,177.01 L566.12,177.07 L566.59,177.13 L567.06,177.18 L567.53,177.23 L568.00,177.28 L568.47,177.32 L568.93,177.35 L569.40,177.39 L569.87,177.42 L570.34,177.44 L570.81,177.46 L571.27,177.47 L571.74,177.48 L572.21,177.49 L572.68,177.49 L573.15,177.49 L573.62,177.49 L574.08,177.49 L574.55,177.49 L575.02,177.49 L575.49,177.49 L575.96,177.49 L576.43,177.49 L576.89,177.49 L577.36,177.49 L577.83,177.49 L578.30,177.49 L578.77,177.49 L579.24,177.49 L579.70,177.49 L580.17,177.49 L580.64,177.49 L581.11,177.49 L581.58,177.49 L582.04,177.49 L582.51,177.49 L582.98,177.49 L583.45,177.49 L583.92,177.49 L584.39,177.49 L584.85,177.49 L585.32,177.49 L585.79,177.49 L586.26,177.49 L586.73,177.49 L587.20,177.49 L587.66,177.49 L588.13,177.49 L588.60,177.49 L589.07,177.49 L589.54,177.49 L590.00,177.49 L590.47,177.49 L590.94,177.49 L591.41,177.49 L591.88,177.49 L592.35,177.49 L592.81,177.49 L593.28,177.49 L593.75,177.49 L594.22,177.49 L594.69,177.49 L595.16,177.49 L595.62,177.49 L596.09,177.49 L596.56,177.49 L597.03,177.49 L597.50,177.49 L597.97,177.49 L598.43,177.49 L598.90,177.49 L599.37,177.49 L599.84,177.49 L600.31,177.49 L600.77,177.49 L601.24,177.49 L601.71,177.49 L602.18,177.49 L602.65,177.49 L603.12,177.49 L603.58,177.49 L604.05,177.49 L604.52,177.49 L604.99,177.49 L605.46,177.49 L605.93,177.49 L606.39,177.49 L606.86,177.49 L607.33,177.49 L607.80,177.49 L608.27,177.49 L608.73,177.49 L609.20,177.49 L609.67,177.49 L610.14,177.49 L610.61,177.49 L611.08,177.49 L611.54,177.49 L612.01,177.49 L612.48,177.49 L612.95,177.49 L613.42,177.49 L613.89,177.49 L614.35,177.49 L614.82,177.49 L615.29,177.49 L615.76,177.49 L616.23,177.49 L616.70,177.49 L617.16,177.49 L617.63,177.49 L618.10,177.49 L618.57,177.49 L619.04,177.49 L619.50,177.49 L619.97,177.49 L620.44,177.49 L620.91,177.49 L621.38,177.49 L621.85,177.49 L622.31,177.49 L622.78,177.49 L623.25,177.49 L623.72,177.49 L624.19,177.49 L624.66,177.49 L625.12,177.49 L625.59,177.49 L626.06,177.49 L626.53,177.49 L627.00,177.49 L627.46,177.49 L627.93,177.49 L628.40,177.49 L628.87,177.49 L629.34,177.49 L629.81,177.49 L630.27,177.49 L630.74,177.49 L631.21,177.49 L631.68,177.49 L632.15,177.49 L632.62,177.49 L633.08,177.49 L633.55,177.49 L634.02,177.49 L634.49,177.49 L634.96,177.49 L635.42,177.49 L635.89,177.49 L636.36,177.49 L636.83,177.49 L637.30,177.49 L637.77,177.49 L638.23,177.49 L638.70,177.49 L639.17,177.49 L639.64,177.49 L640.11,177.49 L640.58,177.49 L641.04,177.49 L641.51,177.49 L641.98,177.49 L642.45,177.49 L642.92,177.49 L643.39,177.49 L643.85,177.49 L644.32,177.49 L644.79,177.49 L645.26,177.49 L645.73,177.49 L646.19,177.49 L646.66,177.49 L647.13,177.49 L647.60,177.49 L648.07,177.49 L648.54,177.49 L649.00,177.49 L649.47,177.49 L649.94,177.49 L650.41,177.49 L650.88,177.49 L651.35,177.49 L651.81,177.49 L652.28,177.49 L652.75,177.49 L653.22,177.49 L653.69,177.49 L654.15,177.49 L654.62,177.49 L655.09,177.49 L655.56,177.49 L656.03,177.49 L656.50,177.49 L656.96,177.49 L657.43,177.49 L657.90,177.49 L658.37,177.49 L658.84,177.49 L659.31,177.49 L659.77,177.49 L660.24,177.49 L660.71,177.49 L661.18,177.49 L661.65,177.49 L662.12,177.49 L662.58,177.49 L663.05,177.49 L663.52,177.49 L663.99,177.49 L664.46,177.49 L664.92,177.49 L665.39,177.49 L665.86,177.49 L666.33,177.49 L666.80,177.49 L667.27,177.49 L667.73,177.49 L668.20,177.49 L668.67,177.49 L669.14,177.49 L669.61,177.49 L670.08,177.49 L670.54,177.49 L671.01,177.49 L671.48,177.49 L671.95,177.49 L672.42,177.49 L672.88,177.49 L673.35,177.49 L673.82,177.49 L674.29,177.49 L674.76,177.49 L675.23,177.49 L675.69,177.49 L676.16,177.49 L676.63,177.49 L677.10,177.49 L677.57,177.49 L678.04,177.49 L678.50,177.49 L678.97,177.49 L679.44,177.49 L679.91,177.49 L680.38,177.49 L680.85,177.49 L681.31,177.49 L681.78,177.49 L682.25,177.49"/>
<path d="M401.30,46.42 L401.77,46.42 L402.24,46.42 L402.70,46.42 L403.17,46.42 L403.64,46.42 L404.11,46.42 L404.58,46.42 L405.05,46.42 L405.51,46.42 L405.98,46.42 L406.45,46.42 L406.92,46.42 L407.39,46.42 L407.86,46.42 L408.32,46.42 L408.79,46.42 L409.26,46.42 L409.73,46.42 L410.20,46.42 L410.67,46.42 L411.13,46.42 L411.60,46.42 L412.07,46.42 L412.54,46.42 L413.01,46.42 L413.47,46.42 L413.94,46.42 L414.41,46.42 L414.88,46.42 L415.35,46.42 L415.82,46.42 L416.28,46.42 L416.75,46.42 L417.22,46.42 L417.69,46.42 L418.16,46.42 L418.63,46.42 L419.09,46.42 L419.56,46.42 L420.03,46.42 L420.50,46.42 L420.97,46.42 L421.43,46.42 L421.90,46.42 L422.37,46.42 L422.84,46.42 L423.31,46.42 L423.78,46.42 L424.24,46.42 L424.71,46.42 L425.18,46.42 L425.65,46.42 L426.12,46.42 L426.59,46.42 L427.05,46.42 L427.52,46.42 L427.99,46.42 L428.46,46.42 L428.93,46.42 L429.39,46.42 L429.86,46.42 L430.33,46.42 L430.80,46.42 L431.27,46.42 L431.74,46.42 L432.20,46.42 L432.67,46.42 L433.14,46.42 L433.61,46.42 L434.08,46.42 L434.55,46.42 L435.01,46.42 L435.48,46.42 L435.95,46.42 L436.42,46.42 L436.89,46.42 L437.36,46.42 L437.82,46.42 L438.29,46.42 L438.76,46.42 L439.23,46.42 L439.70,46.42 L440.16,46.42 L440.63,46.42 L441.10,46.42 L441.57,46.42 L442.04,46.42 L442.51,46.42 L442.97,46.42 L443.44,46.42 L443.91,46.42 L444.38,46.42 L444.85,46.42 L445.32,46.42 L445.78,46.42 L446.25,46.42 L446.72,46.42 L447.19,46.42 L447.66,46.42 L448.12,46.42 L448.59,46.82 L449.06,47.23 L449.53,47.64 L450.00,48.06 L450.47,48.49 L450.93,48.92 L451.40,49.36 L451.87,49.80 L452.34,50.25 L452.81,50.71 L453.28,51.17 L453.74,51.64 L454.21,52.12 L454.68,52.60 L455.15,53.09 L455.62,53.59 L456.09,54.09 L456.55,54.60 L457.02,55.11 L457.49,55.63 L457.96,56.16 L458.43,56.70 L458.89,57.24 L459.36,57.78 L459.83,58.34 L460.30,58.90 L460.77,59.46 L461.24,60.04 L461.70,60.61 L462.17,61.20 L462.64,61.79 L463.11,62.39 L463.58,62.99 L464.05,63.60 L464.51,64.22 L464.98,64.84 L465.45,65.48 L465.92,66.11 L466.39,66.75 L466.86,67.40 L467.32,68.06 L467.79,68.72 L468.26,69.39 L468.73,70.06 L469.20,70.75 L469.66,71.43 L470.13,72.13 L470.60,72.83 L471.07,73.53 L471.54,74.25 L472.01,74.97 L472.47,75.69 L472.94,76.43 L473.41,77.16 L473.88,77.91 L474.35,78.66 L474.82,79.42 L475.28,80.18 L475.75,80.95 L476.22,81.73 L476.69,82.51 L477.16,83.30 L477.62,84.10 L478.09,84.90 L478.56,85.71 L479.03,86.53 L479.50,87.35 L479.97,88.18 L480.43,89.01 L480.90,89.85 L481.37,90.70 L481.84,91.56 L482.31,92.42 L482.78,93.28 L483.24,94.16 L483.71,95.04 L484.18,95.92 L484.65,96.81 L485.12,97.71 L485.59,98.62 L486.05,99.53 L486.52,100.45 L486.99,101.37 L487.46,102.30 L487.93,103.24 L488.39,104.18 L488.86,105.13 L489.33,106.09 L489.80,107.05 L490.27,108.02 L490.74,109.00 L491.20,109.98 L491.67,110.97 L492.14,111.96 L492.61,112.96 L493.08,113.97 L493.55,114.98 L494.01,116.00 L494.48,117.03 L494.95,118.06 L495.42,118.95 L495.89,119.96 L496.35,120.97 L496.82,121.97 L497.29,122.97 L497.76,123.96 L498.23,124.94 L498.70,125.92 L499.16,126.90 L499.63,127.86 L500.10,128.83 L500.57,129.79 L501.04,130.74 L501.51,131.69 L501.97,132.63 L502.44,133.57 L502.91,134.50 L503.38,135.43 L503.85,136.35 L504.31,137.27 L504.78,138.18 L505.25,139.09 L505.72,139.99 L506.19,140.89 L506.66,141.78 L507.12,142.67 L507.59,143.55 L508.06,144.42 L508.53,145.29 L509.00,146.16 L509.47,147.02 L509.93,147.87 L510.40,148.72 L510.87,149.56 L511.34,150.40 L511.81,151.24 L512.28,152.07 L512.74,152.89 L513.21,153.71 L513.68,154.52 L514.15,155.33 L514.62,156.13 L515.08,156.93 L515.55,157.72 L516.02,158.51 L516.49,159.29 L516.96,160.06 L517.43,160.83 L517.89,161.60 L518.36,162.36 L518.83,163.12 L519.30,163.87 L519.77,164.61 L520.24,165.35 L520.70,166.09 L521.17,166.81 L521.64,167.54 L522.11,168.26 L522.58,168.97 L523.05,169.68" stroke-dasharray="6.8 3.6"/><path d="M523.05,169.68 L523.51,170.38 L523.98,171.08 L524.45,171.77 L524.92,172.46 L525.39,173.14 L525.85,173.82 L526.32,174.49 L526.79,175.16 L527.26,175.82 L527.73,176.48 L528.20,177.13 L528.66,177.77 L529.13,178.41 L529.60,179.05 L530.07,179.68 L530.54,180.30 L531.01,180.92 L531.47,181.54 L531.94,182.15 L532.41,182.75 L532.88,183.35 L533.35,183.94 L533.81,184.53 L534.28,185.11 L534.75,185.69 L535.22,186.27 L535.69,186.83 L536.16,187.39 L536.62,187.95 L537.09,188.50 L537.56,189.05 L538.03,189.59 L538.50,190.13 L538.97,190.66 L539.43,191.18 L539.90,191.70 L540.37,192.22 L540.84,192.73 L541.31,193.23 L541.77,193.73 L542.24,194.23 L542.71,194.72 L543.18,195.20 L543.65,195.68 L544.12,196.15 L544.58,196.62 L545.05,197.09 L545.52,197.54 L545.99,198.00 L546.46,198.44 L546.93,198.89 L547.39,199.32 L547.86,199.75 L548.33,200.18 L548.80,200.60 L549.27,201.02 L549.74,201.43 L550.20,201.83 L550.67,202.23 L551.14,202.63 L551.61,203.02 L552.08,203.40 L552.54,203.78 L553.01,204.16 L553.48,204.53 L553.95,204.89 L554.42,205.25 L554.89,205.60 L555.35,205.95 L555.82,206.29 L556.29,206.63 L556.76,206.96 L557.23,207.29 L557.70,207.61 L558.16,207.93 L558.63,208.24 L559.10,208.55 L559.57,208.85 L560.04,209.15 L560.50,209.44 L560.97,209.72 L561.44,210.00 L561.91,210.28 L562.38,210.55 L562.85,210.81 L563.31,211.07 L563.78,211.33 L564.25,211.58 L564.72,211.82 L565.19,212.06 L565.66,212.29 L566.12,212.52 L566.59,212.74 L567.06,212.96 L567.53,213.17 L568.00,213.38 L568.47,213.58 L568.93,213.78 L569.40,213.97 L569.87,214.16 L570.34,214.34 L570.81,214.51 L571.27,214.68 L571.74,214.85 L572.21,215.01 L572.68,215.16 L573.15,215.31 L573.62,215.46 L574.08,215.60 L574.55,215.73 L575.02,215.86 L575.49,215.99 L575.96,216.10 L576.43,216.22 L576.89,216.33 L577.36,216.43 L577.83,216.53 L578.30,216.62 L578.77,216.71 L579.24,216.79 L579.70,216.86 L580.17,216.94 L580.64,217.00 L581.11,217.06 L581.58,217.12 L582.04,217.17 L582.51,217.21 L582.98,217.25 L583.45,217.29 L583.92,217.32 L584.39,217.34 L584.85,217.36 L585.32,217.38 L585.79,217.39 L586.26,217.39 L586.73,217.39 L587.20,217.39 L587.66,217.39 L588.13,217.39 L588.60,217.39" stroke-dasharray="6.585 3.486" stroke-dashoffset="4.513"/><path d="M588.60,217.39 L589.07,217.39 L589.54,217.39 L590.00,217.39 L590.47,217.39 L590.94,217.39 L591.41,217.39 L591.88,217.39 L592.35,217.39 L592.81,217.39 L593.28,217.39 L593.75,217.39 L594.22,217.39 L594.69,217.39 L595.16,217.39 L595.62,217.39 L596.09,217.39 L596.56,217.39 L597.03,217.39 L597.50,217.39 L597.97,217.39 L598.43,217.39 L598.90,217.39 L599.37,217.39 L599.84,217.39 L600.31,217.39 L600.77,217.39 L601.24,217.39 L601.71,217.39 L602.18,217.39 L602.65,217.39 L603.12,217.39 L603.58,217.39 L604.05,217.39 L604.52,217.39 L604.99,217.39 L605.46,217.39 L605.93,217.39 L606.39,217.39 L606.86,217.39 L607.33,217.39 L607.80,217.39 L608.27,217.39 L608.73,217.39 L609.20,217.39 L609.67,217.39 L610.14,217.39 L610.61,217.39 L611.08,217.39 L611.54,217.39 L612.01,217.39 L612.48,217.39 L612.95,217.39 L613.42,217.39 L613.89,217.39 L614.35,217.39 L614.82,217.39 L615.29,217.39 L615.76,217.39 L616.23,217.39 L616.70,217.39 L617.16,217.39 L617.63,217.39 L618.10,217.39 L618.57,217.39 L619.04,217.39 L619.50,217.39 L619.97,217.39 L620.44,217.39 L620.91,217.39 L621.38,217.39 L621.85,217.39 L622.31,217.39 L622.78,217.39 L623.25,217.39 L623.72,217.39 L624.19,217.39 L624.66,217.39 L625.12,217.39 L625.59,217.39 L626.06,217.39 L626.53,217.39 L627.00,217.39 L627.46,217.39 L627.93,217.39 L628.40,217.39 L628.87,217.39 L629.34,217.39 L629.81,217.39 L630.27,217.39 L630.74,217.39 L631.21,217.39 L631.68,217.39 L632.15,217.39 L632.62,217.39 L633.08,217.39 L633.55,217.39 L634.02,217.39 L634.49,217.39 L634.96,217.39 L635.42,217.39 L635.89,217.39 L636.36,217.39 L636.83,217.39 L637.30,217.39 L637.77,217.39 L638.23,217.39 L638.70,217.39 L639.17,217.39 L639.64,217.39 L640.11,217.39 L640.58,217.39 L641.04,217.39 L641.51,217.39 L641.98,217.39 L642.45,217.39 L642.92,217.39 L643.39,217.39 L643.85,217.39 L644.32,217.39 L644.79,217.39 L645.26,217.39 L645.73,217.39 L646.19,217.39 L646.66,217.39 L647.13,217.39 L647.60,217.39 L648.07,217.39 L648.54,217.39 L649.00,217.39 L649.47,217.39 L649.94,217.39 L650.41,217.39 L650.88,217.39 L651.35,217.39 L651.81,217.39 L652.28,217.39 L652.75,217.39 L653.22,217.39 L653.69,217.39 L654.15,217.39 L654.62,217.39 L655.09,217.39 L655.56,217.39 L656.03,217.39 L656.50,217.39 L656.96,217.39 L657.43,217.39 L657.90,217.39 L658.37,217.39 L658.84,217.39 L659.31,217.39 L659.77,217.39 L660.24,217.39 L660.71,217.39 L661.18,217.39 L661.65,217.39 L662.12,217.39 L662.58,217.39 L663.05,217.39 L663.52,217.39 L663.99,217.39 L664.46,217.39 L664.92,217.39 L665.39,217.39 L665.86,217.39 L666.33,217.39 L666.80,217.39 L667.27,217.39 L667.73,217.39 L668.20,217.39 L668.67,217.39 L669.14,217.39 L669.61,217.39 L670.08,217.39 L670.54,217.39 L671.01,217.39 L671.48,217.39 L671.95,217.39 L672.42,217.39 L672.88,217.39 L673.35,217.39 L673.82,217.39 L674.29,217.39 L674.76,217.39 L675.23,217.39 L675.69,217.39 L676.16,217.39 L676.63,217.39 L677.10,217.39 L677.57,217.39 L678.04,217.39 L678.50,217.39 L678.97,217.39 L679.44,217.39 L679.91,217.39 L680.38,217.39 L680.85,217.39 L681.31,217.39 L681.78,217.39 L682.25,217.39" stroke-dasharray="6.8 3.6" stroke-dashoffset="8.900"/>
</g>
<text x="396.9" y="245.20" text-anchor="end">300</text>
<text x="396.9" y="220.77" text-anchor="end">350</text>
<text x="396.9" y="196.33" text-anchor="end">400</text>
<text x="396.9" y="171.90" text-anchor="end">450</text>
<text x="396.9" y="147.47" text-anchor="end">500</text>
<text x="396.9" y="123.03" text-anchor="end">550</text>
<text x="396.9" y="98.60" text-anchor="end">600</text>
<text x="396.9" y="74.17" text-anchor="end">650</text>
<text x="396.9" y="49.73" text-anchor="end">700</text>
<text x="396.9" y="25.30" text-anchor="end">750</text>
<text x="401.30" y="254.9" text-anchor="middle">0</text>
<text x="448.12" y="254.9" text-anchor="middle">0.5</text>
<text x="494.95" y="254.9" text-anchor="middle">1</text>
<text x="541.77" y="254.9" text-anchor="middle">1.5</text>
<text x="588.60" y="254.9" text-anchor="middle">2</text>
<text x="635.42" y="254.9" text-anchor="middle">2.5</text>
<text x="682.25" y="254.9" text-anchor="middle">3</text>
<text x="541.7" y="268.5" text-anchor="middle">Relative tooth depth, x/CHD, [-]</text>
<text transform="translate(375.2,163.6) rotate(-90)">Hardness [HV]</text>
<text class="b" x="365.6" y="12" style="font-size:13.4px">b</text>
<g stroke="#d2d4d8" stroke-width="1" fill="#fff"><rect x="576.8" y="27.4" width="98.5" height="53.9"/><line x1="576.8" y1="44" x2="675.3" y2="44"/></g>
<text class="b" x="625.8" y="39.6" text-anchor="middle">HV Thomas</text>
<g fill="none" stroke-width="0.9" stroke="#4d4d4d">
<line x1="579.2" y1="54.35" x2="604.3" y2="54.35"/>
<line x1="579.1" y1="72.4" x2="605.2" y2="72.4" stroke-dasharray="6.8 3.6"/>
</g>
<text x="607.5" y="56">HV(m<tspan font-size="8.2" dy="4.9">mn</tspan><tspan dy="-4.9"> = 5)</tspan></text>
<text x="607.5" y="73.6">HV(m<tspan font-size="8.2" dy="4.9">mn</tspan><tspan dy="-4.9"> = 35)</tspan></text>
</svg></body></html>
